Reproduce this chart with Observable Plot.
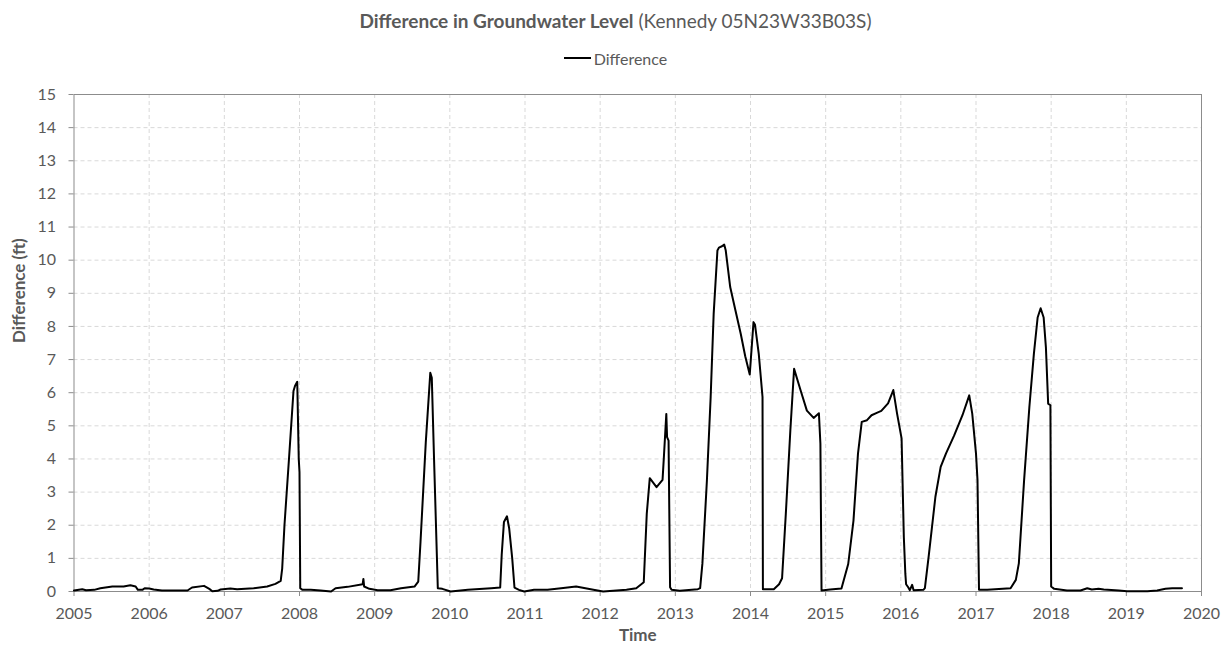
<!DOCTYPE html>
<html>
<head>
<meta charset="utf-8">
<script src="https://cdn.jsdelivr.net/npm/d3@7"></script>
<script src="https://cdn.jsdelivr.net/npm/@observablehq/plot@0.6"></script>
<style>
  html, body { margin: 0; padding: 0; background: #fff; }
  body { width: 1231px; height: 656px; overflow: hidden; font-family: Lato, "Open Sans", sans-serif; color: #595959; }
  #title { height: 38px; line-height: 42px; text-align: center; font-size: 19px; }
  #title b { font-weight: bold; }
  #legend { height: 40px; display: flex; justify-content: center; align-items: center; font-size: 16px; box-sizing: border-box; }
  #legend .sw { width: 27px; height: 0; border-top: 2.5px solid #000; margin-right: 3px; }
  svg { display: block; }
</style>
</head>
<body>
<div id="title"><b>Difference in Groundwater Level</b> (Kennedy 05N23W33B03S)</div>
<div id="legend"><span class="sw"></span><span>Difference</span></div>
<div id="chart"></div>
<script>
// decimal year of each reading
const time = [
  2005.00, 2005.11, 2005.16, 2005.27, 2005.35, 2005.51, 2005.66, 2005.75, 2005.82, 2005.85,
  2005.91, 2005.94, 2006.00, 2006.06, 2006.17, 2006.51, 2006.57, 2006.73, 2006.80, 2006.84,
  2006.91, 2006.95, 2007.08, 2007.17, 2007.39, 2007.57, 2007.68, 2007.75, 2007.77, 2007.80,
  2007.86, 2007.92, 2007.94, 2007.97, 2007.99, 2008.00, 2008.01, 2008.04, 2008.15, 2008.28,
  2008.42, 2008.48, 2008.64, 2008.84, 2008.85, 2008.86, 2008.93, 2009.04, 2009.21, 2009.35,
  2009.53, 2009.58, 2009.61, 2009.68, 2009.74, 2009.76, 2009.79, 2009.84, 2009.90, 2010.01,
  2010.24, 2010.55, 2010.67, 2010.69, 2010.72, 2010.76, 2010.79, 2010.83, 2010.86, 2010.92,
  2010.99, 2011.12, 2011.30, 2011.48, 2011.68, 2011.91, 2012.04, 2012.35, 2012.48, 2012.58,
  2012.62, 2012.66, 2012.75, 2012.83, 2012.85, 2012.88, 2012.89, 2012.91, 2012.93, 2012.95,
  2013.06, 2013.30, 2013.33, 2013.36, 2013.42, 2013.47, 2013.51, 2013.56, 2013.58, 2013.62,
  2013.65, 2013.67, 2013.73, 2013.80, 2013.87, 2013.93, 2013.99, 2014.04, 2014.06, 2014.11,
  2014.16, 2014.165, 2014.31, 2014.38, 2014.42, 2014.47, 2014.53, 2014.58, 2014.66, 2014.75,
  2014.84, 2014.91, 2014.93, 2014.945, 2015.06, 2015.21, 2015.30, 2015.37, 2015.43, 2015.48,
  2015.55, 2015.61, 2015.68, 2015.74, 2015.83, 2015.90, 2015.95, 2016.01, 2016.04, 2016.06,
  2016.07, 2016.10, 2016.12, 2016.15, 2016.17, 2016.30, 2016.32, 2016.37, 2016.46, 2016.53,
  2016.60, 2016.71, 2016.82, 2016.91, 2016.95, 2017.00, 2017.02, 2017.04, 2017.15, 2017.46,
  2017.53, 2017.57, 2017.64, 2017.71, 2017.77, 2017.82, 2017.86, 2017.90, 2017.93, 2017.96,
  2017.99, 2018.00, 2018.04, 2018.21, 2018.39, 2018.48, 2018.54, 2018.63, 2018.70, 2018.90,
  2019.01, 2019.28, 2019.41, 2019.52, 2019.61, 2019.74
];
// difference in groundwater level (ft)
const difference = [
  0.03, 0.07, 0.04, 0.05, 0.10, 0.15, 0.15, 0.19, 0.15, 0.05,
  0.05, 0.10, 0.09, 0.06, 0.03, 0.03, 0.12, 0.17, 0.08, 0.01,
  0.02, 0.06, 0.09, 0.07, 0.10, 0.15, 0.23, 0.32, 0.70, 2.00,
  4.00, 6.05, 6.20, 6.33, 4.00, 3.60, 0.10, 0.05, 0.05, 0.03,
  0.00, 0.10, 0.14, 0.22, 0.38, 0.15, 0.08, 0.04, 0.04, 0.10,
  0.15, 0.30, 1.50, 4.50, 6.60, 6.45, 4.00, 0.10, 0.08, 0.00,
  0.05, 0.10, 0.12, 1.10, 2.10, 2.27, 1.90, 1.00, 0.12, 0.05,
  0.00, 0.05, 0.05, 0.10, 0.15, 0.05, 0.00, 0.05, 0.10, 0.28,
  2.35, 3.42, 3.15, 3.37, 4.15, 5.36, 4.66, 4.55, 0.13, 0.05,
  0.02, 0.07, 0.10, 0.84, 3.35, 5.87, 8.38, 10.29, 10.38, 10.42,
  10.47, 10.30, 9.19, 8.48, 7.78, 7.10, 6.55, 8.13, 8.05, 7.17,
  5.87, 0.07, 0.07, 0.22, 0.40, 2.35, 4.86, 6.72, 6.12, 5.46,
  5.24, 5.38, 4.46, 0.03, 0.06, 0.09, 0.83, 2.14, 4.16, 5.12,
  5.17, 5.32, 5.39, 5.45, 5.68, 6.08, 5.37, 4.62, 1.64, 0.53,
  0.22, 0.12, 0.04, 0.20, 0.04, 0.05, 0.10, 1.05, 2.86, 3.76,
  4.16, 4.71, 5.32, 5.92, 5.37, 4.16, 3.36, 0.05, 0.05, 0.10,
  0.35, 0.85, 3.36, 5.57, 7.17, 8.27, 8.55, 8.27, 7.37, 5.67,
  5.62, 0.15, 0.08, 0.03, 0.03, 0.10, 0.06, 0.08, 0.06, 0.03,
  0.01, 0.01, 0.03, 0.08, 0.10, 0.10
];
const yearTicks = [2005, 2006, 2007, 2008, 2009, 2010, 2011, 2012, 2013, 2014, 2015, 2016, 2017, 2018, 2019, 2020];
const valueTicks = [0, 1, 2, 3, 4, 5, 6, 7, 8, 9, 10, 11, 12, 13, 14, 15];
const xTitle = "Time";
const yTitle = "Difference (ft)";

const rows = time.map((t, i) => ({t, v: difference[i]}));
const gridCol = "#d9d9d9";
const axisCol = "#8c8c8c";

const chart = Plot.plot({
  width: 1231,
  height: 578,
  marginTop: 16,
  marginBottom: 65,
  marginLeft: 73.5,
  marginRight: 30,
  style: {fontFamily: "Lato, 'Open Sans', sans-serif", fontSize: "16px", color: "#595959", background: "#fff"},
  x: {domain: [2005, 2020]},
  y: {domain: [0, 15]},
  marks: [
    Plot.gridX(yearTicks.slice(1, -1), {stroke: gridCol, strokeOpacity: 1, strokeDasharray: "4,3"}),
    Plot.gridY(valueTicks.slice(1, -1), {stroke: gridCol, strokeOpacity: 1, strokeDasharray: "4,3"}),
    Plot.frame({stroke: axisCol}),
    Plot.axisX(yearTicks, {tickFormat: d => String(d), tickSize: 5, tickPadding: 11, stroke: axisCol, label: null, fill: "#595959"}),
    Plot.axisY(valueTicks, {tickFormat: d => String(d), tickSize: 5, tickPadding: 13, stroke: axisCol, label: null, fill: "#595959"}),
    Plot.line(rows, {x: "t", y: "v", stroke: "#000", strokeWidth: 2, strokeLinejoin: "round"}),
    Plot.text([xTitle], {frameAnchor: "bottom", dy: 49, text: d => d, fontWeight: "bold", fontSize: 17, fill: "#595959"}),
    Plot.text([yTitle], {frameAnchor: "left", dx: -54, rotate: -90, text: d => d, fontWeight: "bold", fontSize: 17, fill: "#595959"})
  ]
});
document.getElementById("chart").appendChild(chart);
</script>
</body>
</html>
